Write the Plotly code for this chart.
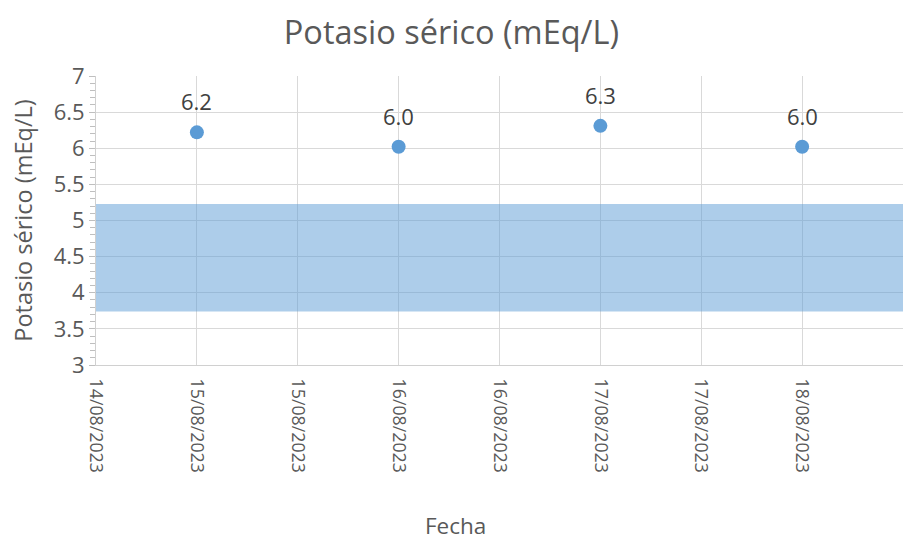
import plotly.graph_objects as go

fechas = ["2023-08-15", "2023-08-16", "2023-08-17", "2023-08-18"]
potasio = [6.22, 6.02, 6.31, 6.02]
etiquetas = ["6.2", "6.0", "6.3", "6.0"]

rango_x = ["2023-08-14 12:00", "2023-08-18 12:00"]
banda_baja = 3.74
banda_alta = 5.23

gris = "#595959"
fuente = "Open Sans, Noto Sans, sans-serif"

fig = go.Figure()

fig.add_trace(go.Scatter(
    x=[rango_x[0], rango_x[1], rango_x[1], rango_x[0], rango_x[0]],
    y=[banda_baja, banda_baja, banda_alta, banda_alta, banda_baja],
    fill="toself", fillcolor="rgba(91,155,213,0.5)",
    line=dict(width=0), mode="lines", hoverinfo="skip", showlegend=False,
))

fig.add_trace(go.Scatter(
    x=fechas, y=potasio, mode="markers",
    marker=dict(color="#5B9BD5", size=14),
    showlegend=False,
))

for f, v, t in zip(fechas, potasio, etiquetas):
    fig.add_annotation(x=f, y=v, text=t, showarrow=False, yshift=31,
                       xanchor="center", yanchor="middle",
                       font=dict(size=22, color="#404040", family=fuente))

fig.add_annotation(text="Fecha", xref="paper", yref="paper", x=0.446, y=-0.557,
                   xanchor="center", yanchor="middle", showarrow=False,
                   font=dict(size=22.5, color=gris, family=fuente))

fig.update_layout(
    width=912, height=542,
    margin=dict(l=96, r=9, t=76, b=177),
    paper_bgcolor="white", plot_bgcolor="white",
    title=dict(text="Potasio sérico (mEq/L)", x=0.495, xanchor="center", y=0.94, yanchor="middle",
               font=dict(size=32.5, color=gris, family=fuente)),
    font=dict(family=fuente, color=gris),
)

fig.update_xaxes(
    type="date", range=rango_x, dtick=43200000, tick0="2023-08-14 12:00",
    tickformat="%d/%m/%Y", tickangle=90,
    tickfont=dict(size=17.8, color=gris, family=fuente),
    ticklabelstandoff=9,
    showgrid=True, gridcolor="#d9d9d9", gridwidth=1,
    showline=True, linecolor="#d0d0d0", linewidth=1,
    ticks="", zeroline=False, automargin=False,
)

fig.update_yaxes(
    range=[3, 7], dtick=0.5, tick0=3,
    tickfont=dict(size=22, color=gris, family=fuente),
    showgrid=True, gridcolor="#d9d9d9", gridwidth=1,
    showline=True, linecolor="#d0d0d0", linewidth=1,
    ticks="outside", ticklen=6, tickcolor="#bfbfbf",
    minor=dict(dtick=0.1, ticks="outside", ticklen=5, tickcolor="#bfbfbf", showgrid=False),
    zeroline=False, automargin=False,
    title=dict(text="Potasio sérico (mEq/L)", font=dict(size=23.5, color=gris, family=fuente), standoff=14),
)

fig.write_html("out.html", config={"displayModeBar": False},
               post_script="document.body.style.margin='0';")
